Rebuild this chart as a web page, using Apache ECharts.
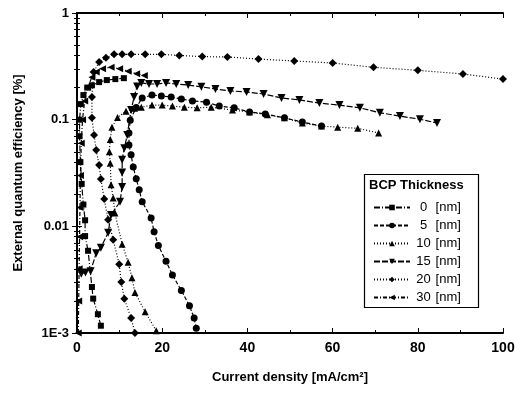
<!DOCTYPE html>
<html>
<head>
<meta charset="utf-8">
<script src="https://cdn.jsdelivr.net/npm/echarts@6/dist/echarts.min.js"></script>
<style>
  html, body { margin: 0; padding: 0; background: #fff; }
  #chart { width: 520px; height: 394px; }
</style>
</head>
<body>
<div id="chart"></div>
<script>
// BCP thickness labels
const thicknessLabels = ['0 [nm]', '5 [nm]', '10 [nm]', '15 [nm]', '20 [nm]', '30 [nm]'];
const yTickLabels = { 1: '1', 0.1: '0.1', 0.01: '0.01', 0.001: '1E-3' };

// current density [mA/cm2] and EQE [%] per thickness
const x0nm = [5.6, 4.9, 3.8, 3.5, 2.6, 1.9, 1.9, 1.5, 1.1, 0.8, 0.6, 0.6, 0.9, 1.5, 2.4, 3.5, 5.2, 7.0, 9.0, 11.0];
const y0nm = [0.00117, 0.0015, 0.0021, 0.0027, 0.0059, 0.0081, 0.0114, 0.016, 0.025, 0.04, 0.07, 0.1, 0.14, 0.17, 0.2, 0.21, 0.225, 0.235, 0.24, 0.245];

const x5nm = [28.0, 27.5, 26.4, 24.5, 22.4, 20.9, 19.1, 18.1, 17.4, 15.3, 14.6, 13.9, 13.2, 12.7, 12.2, 12.2, 12.5, 13.9, 15.3, 17.6, 19.8, 22.1, 24.5, 27.1, 30.4, 33.4, 36.9, 40.5, 44.2, 48.7, 52.9, 57.4];
const y5nm = [0.00111, 0.00138, 0.0018, 0.0025, 0.0035, 0.0047, 0.0066, 0.0089, 0.012, 0.017, 0.022, 0.028, 0.036, 0.047, 0.058, 0.075, 0.099, 0.13, 0.16, 0.17, 0.167, 0.163, 0.156, 0.15, 0.146, 0.134, 0.129, 0.118, 0.113, 0.104, 0.095, 0.087];

const x10nm = [18.6, 16.0, 13.6, 12.9, 12.0, 10.6, 8.9, 8.5, 8.0, 7.8, 7.6, 7.8, 8.2, 9.5, 11.5, 13.5, 15.1, 17.6, 20.0, 22.4, 25.2, 28.2, 31.5, 36.5, 40.5, 44.7, 48.7, 52.9, 57.4, 61.2, 65.9, 70.8];
const y10nm = [0.00105, 0.00158, 0.0024, 0.0033, 0.0046, 0.0068, 0.0133, 0.0184, 0.0245, 0.039, 0.05, 0.065, 0.085, 0.105, 0.12, 0.128, 0.131, 0.137, 0.137, 0.134, 0.131, 0.129, 0.131, 0.123, 0.118, 0.111, 0.104, 0.093, 0.087, 0.085, 0.083, 0.075];

const x15nm = [1.0, 2.0, 3.2, 4.5, 5.6, 7.3, 8.0, 10.1, 10.6, 10.6, 10.6, 11.1, 11.8, 12.7, 13.4, 14.1, 15.1, 16.9, 18.8, 20.9, 23.3, 26.1, 29.2, 32.5, 36.0, 39.8, 43.8, 48.0, 52.2, 56.9, 61.6, 66.4, 71.1, 75.8, 80.5, 84.5];
const y15nm = [0.0036, 0.0037, 0.0038, 0.0056, 0.0063, 0.0087, 0.0128, 0.017, 0.0234, 0.032, 0.042, 0.054, 0.072, 0.123, 0.163, 0.205, 0.221, 0.216, 0.216, 0.221, 0.216, 0.211, 0.203, 0.194, 0.186, 0.182, 0.174, 0.16, 0.153, 0.143, 0.137, 0.129, 0.116, 0.108, 0.101, 0.093];

const x20nm = [13.6, 12.7, 11.1, 10.4, 9.9, 8.5, 7.3, 6.4, 5.6, 5.2, 4.5, 4.0, 3.5, 3.5, 3.9, 5.2, 6.8, 8.7, 10.6, 12.7, 16.0, 19.8, 24.0, 29.4, 35.3, 42.6, 51.0, 60.0, 69.6, 80.0, 90.6, 100.0];
const y20nm = [0.001, 0.00138, 0.0021, 0.003, 0.0044, 0.0075, 0.0115, 0.018, 0.0278, 0.0376, 0.052, 0.072, 0.104, 0.163, 0.28, 0.347, 0.38, 0.41, 0.41, 0.41, 0.41, 0.41, 0.4, 0.39, 0.387, 0.37, 0.355, 0.34, 0.31, 0.29, 0.268, 0.24];

const x30nm = [0.3, 0.4, 0.5, 0.6, 0.7, 0.8, 1.0, 1.3, 1.8, 2.5, 3.5, 4.5, 6.0, 8.0, 10.0, 12.0, 14.0, 15.8];
const y30nm = [0.001, 0.002, 0.004, 0.008, 0.015, 0.03, 0.06, 0.1, 0.15, 0.2, 0.25, 0.28, 0.3, 0.31, 0.3, 0.285, 0.27, 0.26];

const zip = (xs, ys) => xs.map((x, i) => [x, ys[i]]);

const seriesData = [
  { x: x0nm, y: y0nm, symbol: 'rect', rotate: 0, size: 6, dash: [6, 2, 1, 2] },
  { x: x5nm, y: y5nm, symbol: 'circle', rotate: 0, size: 7, dash: [4, 2] },
  { x: x10nm, y: y10nm, symbol: 'triangle', rotate: 0, size: 7, dash: [1, 2] },
  { x: x15nm, y: y15nm, symbol: 'triangle', rotate: 180, size: 8, dash: [6, 2] },
  { x: x20nm, y: y20nm, symbol: 'diamond', rotate: 0, size: 8, dash: [1, 2] },
  { x: x30nm, y: y30nm, symbol: 'triangle', rotate: 90, size: 7, dash: [4, 2, 1, 2] },
];

const font = 'Liberation Sans, Arial, sans-serif';
const chart = echarts.init(document.getElementById('chart'));

const frameAxis = {
  axisLine: { show: true, lineStyle: { color: '#000', width: 2 } },
  splitLine: { show: false },
};

chart.setOption({
  animation: false,
  backgroundColor: '#fff',
  grid: { left: 77, right: 17, top: 13, bottom: 61 },
  xAxis: [
    {
      ...frameAxis,
      type: 'value', min: 0, max: 100, interval: 20,
      name: 'Current density [mA/cm²]',
      nameLocation: 'middle', nameGap: 38,
      nameTextStyle: { fontFamily: font, fontWeight: 'bold', fontSize: 13, color: '#000' },
      axisTick: { inside: true, length: 5, lineStyle: { color: '#000' } },
      minorTick: { show: true, splitNumber: 2, length: 3, lineStyle: { color: '#000' } },
      axisLabel: { fontFamily: font, fontWeight: 'bold', fontSize: 14, color: '#000', margin: 8 },
    },
    {
      ...frameAxis,
      type: 'value', min: 0, max: 100, interval: 20, position: 'top',
      axisTick: { inside: true, length: 5, lineStyle: { color: '#000' } },
      minorTick: { show: true, splitNumber: 2, length: 3, lineStyle: { color: '#000' } },
      axisLabel: { show: false },
    },
  ],
  yAxis: [
    {
      ...frameAxis,
      type: 'log', min: 0.001, max: 1, logBase: 10,
      name: 'External quantum efficiency [%]',
      nameLocation: 'middle', nameGap: 52,
      nameTextStyle: { fontFamily: font, fontWeight: 'bold', fontSize: 13, color: '#000' },
      axisTick: { inside: true, length: 5, lineStyle: { color: '#000' } },
      minorTick: { show: true, splitNumber: 9, length: 3, lineStyle: { color: '#000' } },
      axisLabel: {
        fontFamily: font, fontWeight: 'bold', fontSize: 13, color: '#000', margin: 8,
        formatter: (v) => yTickLabels[v] ?? '',
      },
    },
    {
      ...frameAxis,
      type: 'log', min: 0.001, max: 1, logBase: 10, position: 'right',
      axisTick: { inside: true, length: 5, lineStyle: { color: '#000' } },
      minorTick: { show: true, splitNumber: 9, length: 3, lineStyle: { color: '#000' } },
      axisLabel: { show: false },
    },
  ],
  legend: {
    data: thicknessLabels,
    orient: 'vertical',
    left: 368, top: 196,
    itemWidth: 36, itemHeight: 7, itemGap: 5,
    formatter: (name) => {
      const [num, unit] = name.split(' ');
      return `{n|${num}} ${unit}`;
    },
    textStyle: {
      fontFamily: font, fontSize: 13, color: '#000',
      rich: { n: { width: 17, align: 'right', fontFamily: font, fontSize: 13, color: '#000' } },
    },
  },
  graphic: [
    {
      type: 'rect', left: 362, top: 172, z: 10,
      shape: { width: 114, height: 133 },
      style: { fill: 'none', stroke: '#000', lineWidth: 1.2 },
    },
    {
      type: 'text', left: 369, top: 179, z: 10,
      style: { text: 'BCP Thickness', font: 'bold 13px ' + font, fill: '#000' },
    },
  ],
  series: seriesData.map((s, i) => ({
    name: thicknessLabels[i],
    type: 'line',
    data: zip(s.x, s.y),
    symbol: s.symbol,
    symbolRotate: s.rotate,
    symbolSize: s.size,
    color: '#000',
    itemStyle: { color: '#000' },
    lineStyle: { color: '#000', width: 1.2, type: s.dash },
  })),
});
</script>
</body>
</html>
